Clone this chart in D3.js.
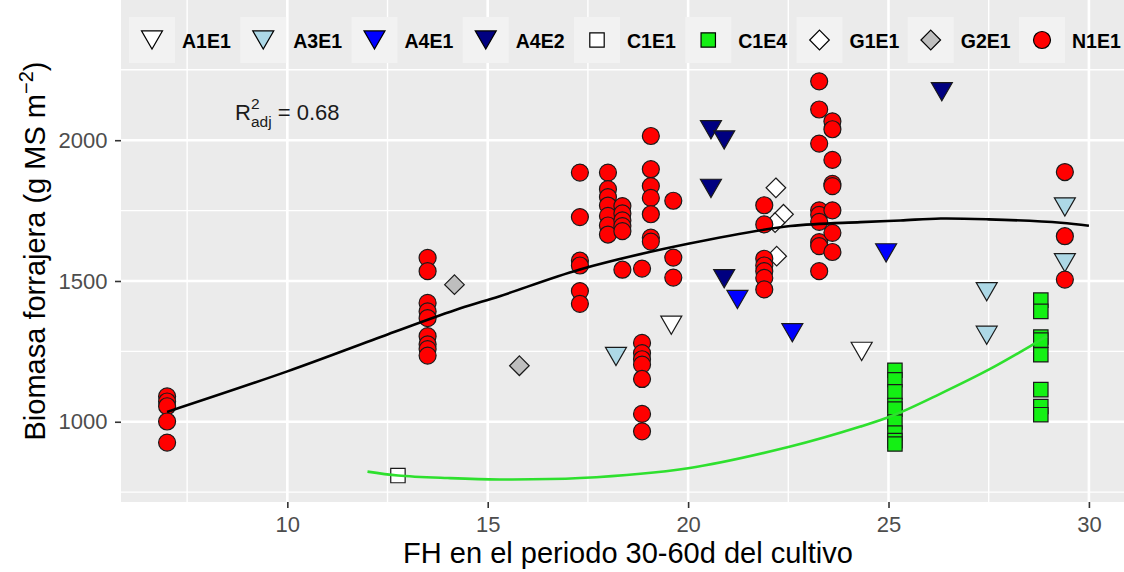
<!DOCTYPE html>
<html><head><meta charset="utf-8">
<script src="https://cdn.jsdelivr.net/npm/d3@7"></script>
<style>
body{margin:0;background:#fff}
svg{display:block}
text{font-family:"Liberation Sans",Arial,Helvetica,sans-serif}
</style>
</head><body>
<svg id="chart" width="1124" height="572"></svg>
<script>
// ---------------- DATA ----------------
const groups = ["A1E1","A3E1","A4E1","A4E2","C1E1","C1E4","G1E1","G2E1","N1E1"];

const A1E1_x = [19.58, 24.33];
const A1E1_y = [1343, 1250];
const A3E1_x = [18.2, 27.45, 27.45, 29.4, 29.4];
const A3E1_y = [1232, 1462, 1307, 1763, 1565];
const A4E1_x = [21.23, 22.6, 24.94];
const A4E1_y = [1434, 1316, 1600];
const A4E2_x = [20.57, 20.9, 20.57, 20.9, 26.33];
const A4E2_y = [2037, 2001, 1829, 1508, 2172];
const C1E1_x = [12.76];
const C1E1_y = [809];
const C1E4_x = [25.16,25.16,25.16,25.16,25.16,25.16,25.16,25.16,25.16,
                28.8,28.8,28.8,28.8,28.8,28.8,28.8,28.8];
const C1E4_y = [1183,1149,1106,1058,1045,999,960,933,921,
                1432,1392,1301,1290,1238,1114,1054,1025];
const G1E1_x = [22.19, 22.38, 22.17, 22.21];
const G1E1_y = [1831, 1737, 1707, 1588];
const G2E1_x = [14.17, 15.79];
const G2E1_y = [1487, 1199];
const N1E1_x = [7,7,7,7,7,
  13.5,13.5,13.5,13.5,13.5,13.5,13.5,13.5,13.5,
  17.3,17.3,17.3,17.3,17.3,17.3,
  18.0,18.0,18.0,18.0,18.0,18.0,18.0,
  18.36,18.36,18.36,18.36,18.36,18.36,
  18.85,18.85,18.85,18.85,18.85,18.85,18.85,18.85,
  19.07,19.07,19.07,19.07,19.07,19.07,19.07,
  19.63,19.63,19.63,
  21.9,21.9,21.9,21.9,21.9,21.9,21.9,
  23.27,23.27,23.27,23.27,23.27,23.27,23.27,23.27,23.27,
  23.6,23.6,23.6,23.6,23.6,23.6,23.6,23.6,
  29.4,29.4,29.4];
const N1E1_y = [1090,1072,1055,1001,926,
  1582,1535,1422,1392,1368,1304,1275,1258,1235,
  1885,1727,1572,1555,1464,1419,
  1885,1826,1798,1768,1731,1697,1665,
  1766,1740,1715,1695,1677,1540,
  1544,1280,1244,1222,1203,1152,1028,966,
  2015,1897,1837,1795,1737,1654,1640,
  1785,1583,1512,
  1769,1701,1579,1555,1535,1511,1470,
  2209,2109,1988,1751,1735,1710,1638,1624,1535,
  2067,2039,1930,1845,1837,1751,1671,1603,
  1887,1659,1505];

// fitted curves
const fitAll_x = [7, 10, 12.5, 14.3, 15.3, 17.3, 20, 22.55, 24.3, 25.3, 26.3, 27.5, 29.3, 30];
const fitAll_y = [1035, 1179, 1310, 1402, 1446, 1541, 1632, 1695, 1709, 1715, 1722, 1719, 1707, 1696];
const fitC1E4_x = [12, 12.76, 14, 15.3, 17.3, 20, 22.55, 24.3, 25.16, 26.3, 27.5, 28.6, 28.95];
const fitC1E4_y = [823, 809, 800, 795, 800, 835, 912, 983, 1025, 1100, 1185, 1274, 1304];

const xTicks = [10, 15, 20, 25, 30];
const xMinor = [7.5, 12.5, 17.5, 22.5, 27.5];
const yTicks = [1000, 1500, 2000];
const yMinor = [750, 1250, 1750, 2250];
const r2Value = "0.68";
const r2Pos = [10, 2100];
const xTitle = "FH en el periodo 30-60d del cultivo";

const groupData = {
  A1E1:[A1E1_x,A1E1_y], A3E1:[A3E1_x,A3E1_y], A4E1:[A4E1_x,A4E1_y], A4E2:[A4E2_x,A4E2_y],
  C1E1:[C1E1_x,C1E1_y], C1E4:[C1E4_x,C1E4_y], G1E1:[G1E1_x,G1E1_y], G2E1:[G2E1_x,G2E1_y],
  N1E1:[N1E1_x,N1E1_y]
};

// ---------------- STYLE ----------------
const style = {
  A1E1:{shape:"tri", fill:"#FFFFFF"},
  A3E1:{shape:"tri", fill:"#ADD8E6"},
  A4E1:{shape:"tri", fill:"#0000FF"},
  A4E2:{shape:"tri", fill:"#000080"},
  C1E1:{shape:"square", fill:"#FFFFFF"},
  C1E4:{shape:"square", fill:"#14F014"},
  G1E1:{shape:"diamond", fill:"#FFFFFF"},
  G2E1:{shape:"diamond", fill:"#BEBEBE"},
  N1E1:{shape:"circle", fill:"#FF0000"}
};

function shapePath(shape){
  if(shape==="tri"){ const w=21, h=18.2; return `M${-w/2},${-h/2}L${w/2},${-h/2}L0,${h/2}Z`; }
  if(shape==="square"){ const s=7.2; return `M${-s},${-s}H${s}V${s}H${-s}Z`; }
  if(shape==="diamond"){ const d=9.8; return `M0,${-d}L${d},0L0,${d}L${-d},0Z`; }
  const r=8.5; return `M${r},0A${r},${r} 0 1,1 ${-r},0A${r},${r} 0 1,1 ${r},0Z`;
}

const svg = d3.select("#chart");
const P = {left:121, right:1135, top:0, bottom:502};
const xS = d3.scaleLinear().domain([5.85, 31.15]).range([P.left, P.right]);
const yS = d3.scaleLinear().domain([715, 2498]).range([P.bottom, P.top]);

// panel
svg.append("rect").attr("x",P.left).attr("y",P.top).attr("width",P.right-P.left).attr("height",P.bottom-P.top).attr("fill","#EBEBEB");
const grid = svg.append("g");
grid.selectAll(".xm").data(xMinor).join("line").attr("x1",d=>xS(d)).attr("x2",d=>xS(d)).attr("y1",P.top).attr("y2",P.bottom).attr("stroke","#fff").attr("stroke-width",1.4);
grid.selectAll(".ym").data(yMinor).join("line").attr("y1",d=>yS(d)).attr("y2",d=>yS(d)).attr("x1",P.left).attr("x2",P.right).attr("stroke","#fff").attr("stroke-width",1.4);
grid.selectAll(".xM").data(xTicks).join("line").attr("x1",d=>xS(d)).attr("x2",d=>xS(d)).attr("y1",P.top).attr("y2",P.bottom).attr("stroke","#fff").attr("stroke-width",2.6);
grid.selectAll(".yM").data(yTicks).join("line").attr("y1",d=>yS(d)).attr("y2",d=>yS(d)).attr("x1",P.left).attr("x2",P.right).attr("stroke","#fff").attr("stroke-width",2.6);

// axes
const xAxis = svg.append("g").attr("transform",`translate(0,${P.bottom})`)
  .call(d3.axisBottom(xS).tickValues(xTicks).tickSize(6).tickPadding(8.5).tickFormat(d3.format("d")));
const yAxis = svg.append("g").attr("transform",`translate(${P.left},0)`)
  .call(d3.axisLeft(yS).tickValues(yTicks).tickSize(6).tickPadding(7.5).tickFormat(d3.format("d")));
[xAxis,yAxis].forEach(a=>{
  a.select(".domain").remove();
  a.selectAll(".tick line").attr("stroke","#333333").attr("stroke-width",1.6);
  a.selectAll(".tick text").attr("fill","#4D4D4D").attr("font-size",22).attr("font-family",'"Liberation Sans",Arial,sans-serif');
});

// legend (inside panel, top)
const leg = svg.append("g");
groups.forEach((g,i)=>{
  const cx = 152 + i*111.25, cy = 40;
  leg.append("rect").attr("x",cx-23).attr("y",cy-23).attr("width",46).attr("height",46).attr("fill","#F2F2F2");
  leg.append("path").attr("d",shapePath(style[g].shape)).attr("transform",`translate(${cx},${cy})`)
    .attr("fill",style[g].fill).attr("stroke","#000").attr("stroke-width",1.2);
  leg.append("text").attr("x",cx+30).attr("y",cy+7.5).attr("font-size",19.5).attr("font-weight","bold").attr("fill","#000").text(g);
});

// points
groups.forEach(g=>{
  const [xs,ys] = groupData[g];
  const pts = xs.map((x,j)=>({x, y:ys[j]}));
  svg.append("g").selectAll("path").data(pts).join("path")
    .attr("d",shapePath(style[g].shape))
    .attr("transform",d=>`translate(${xS(d.x)},${yS(d.y)})`)
    .attr("fill",style[g].fill).attr("stroke","#1a1a1a").attr("stroke-width",1.2);
});

// fitted lines
const line = d3.line().x(d=>xS(d[0])).y(d=>yS(d[1])).curve(d3.curveCatmullRom.alpha(0.5));
svg.append("path").attr("d",line(fitAll_x.map((x,i)=>[x,fitAll_y[i]]))).attr("fill","none").attr("stroke","#000").attr("stroke-width",2.6);
svg.append("path").attr("d",line(fitC1E4_x.map((x,i)=>[x,fitC1E4_y[i]]))).attr("fill","none").attr("stroke","#2EE02E").attr("stroke-width",2.6);

// R2 annotation
const r2 = svg.append("text").attr("x",0).attr("y",yS(r2Pos[1])+8).attr("font-size",22).attr("fill","#1a1a1a");
r2.append("tspan").text("R");
r2.append("tspan").attr("font-size",15.5).attr("dy",-11).text("2");
r2.append("tspan").attr("font-size",15.5).attr("dx",-8.6).attr("dy",17.5).text("adj");
r2.append("tspan").attr("dy",-6.5).text("\u00A0=\u00A0" + r2Value);
const bb = r2.node().getBBox();
r2.attr("x", xS(r2Pos[0]) - bb.width/2);

// axis titles
svg.append("text").attr("x",(P.left+P.right)/2).attr("y",563).attr("text-anchor","middle").attr("font-size",29).attr("fill","#000").text(xTitle);
const yt = svg.append("text").attr("transform",`translate(45,${(P.top+P.bottom)/2}) rotate(-90)`).attr("text-anchor","middle").attr("font-size",29).attr("fill","#000");
yt.append("tspan").text("Biomasa forrajera (g MS m");
yt.append("tspan").attr("font-size",20).attr("dy",-12).text("\u22122");
yt.append("tspan").attr("dy",12).text(")");
</script>
</body></html>
